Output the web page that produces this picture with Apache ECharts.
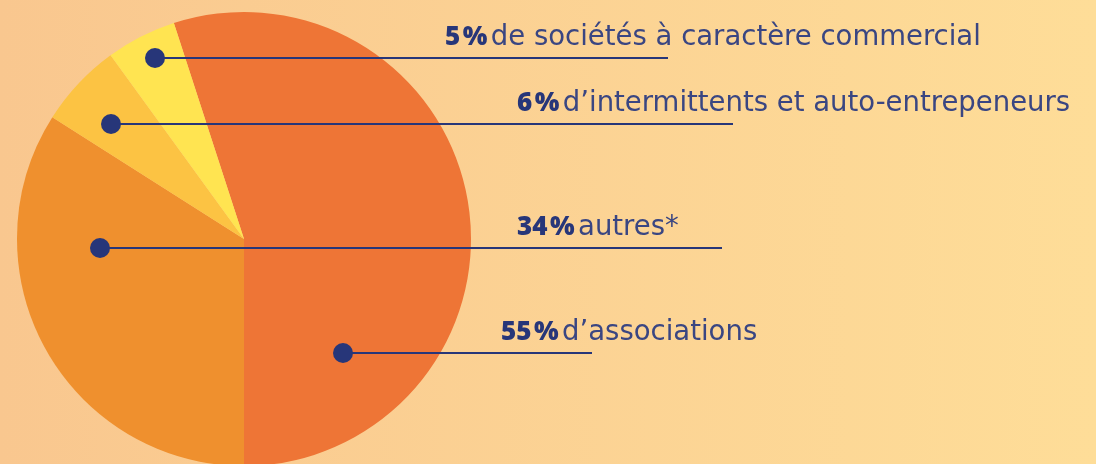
<!DOCTYPE html>
<html>
    <head>
        <meta charset="utf-8">
        <script src="https://cdn.jsdelivr.net/npm/echarts@6.0.0/dist/echarts.min.js"></script>
        <style>
            html, body { margin: 0; padding: 0; }
        </style>
    </head>
    <body>
        <div id="main" style="width: 1096px; height: 464px;"></div>
        <script>
            // parts, clockwise from the top
            var values = [55, 34, 6, 5];
            var names = ["d\u2019associations", 'autres*', "d\u2019intermittents et auto-entrepeneurs", 'de soci\u00e9t\u00e9s \u00e0 caract\u00e8re commercial'];
            var colors = ['#EE7536', '#EF902E', '#FCC343', '#FFE451'];

            // callout placement: dot, end of line, start of text
            var dots = [[343, 353], [100, 248], [111, 124], [155, 58]];
            var lineEnds = [592, 722, 733, 668];
            var textX = [501, 517, 517, 445];

            var chartDom = document.getElementById('main');
            var myChart = echarts.init(chartDom);

            var navy = '#273679';
            var graphics = [];
            values.forEach(function (v, i) {
                graphics.push({
                    type: 'line',
                    z: 10,
                    shape: { x1: dots[i][0], y1: dots[i][1], x2: lineEnds[i], y2: dots[i][1] },
                    style: { stroke: navy, lineWidth: 2 }
                });
                graphics.push({
                    type: 'circle',
                    z: 11,
                    shape: { cx: dots[i][0], cy: dots[i][1], r: 10 },
                    style: { fill: navy }
                });
                graphics.push({
                    type: 'text',
                    z: 11,
                    x: textX[i],
                    y: dots[i][1] - 6,
                    style: {
                        text: '{b|' + v + '\u200a%} {n|' + names[i] + '}',
                        verticalAlign: 'bottom',
                        rich: {
                            b: { fontFamily: 'Open Sans', fontWeight: 800, fontSize: 26, fill: navy, color: navy },
                            n: { fontFamily: 'DejaVu Sans', fontWeight: 400, fontSize: 27.5, fill: '#3A4682', color: '#3A4682' }
                        }
                    }
                });
            });

            var option = {
                animation: false,
                backgroundColor: {
                    type: 'linear', x: 0, y: 0, x2: 1, y2: 0,
                    colorStops: [
                        { offset: 0, color: '#F9C78F' },
                        { offset: 1, color: '#FEDD98' }
                    ]
                },
                series: [{
                    type: 'pie',
                    center: [244, 239],
                    radius: 227,
                    startAngle: 108,
                    clockwise: true,
                    silent: true,
                    label: { show: false },
                    labelLine: { show: false },
                    data: values.map(function (v, i) {
                        return { value: v, name: names[i], itemStyle: { color: colors[i] } };
                    })
                }],
                graphic: graphics
            };

            myChart.setOption(option);
        </script>
    </body>
</html>
